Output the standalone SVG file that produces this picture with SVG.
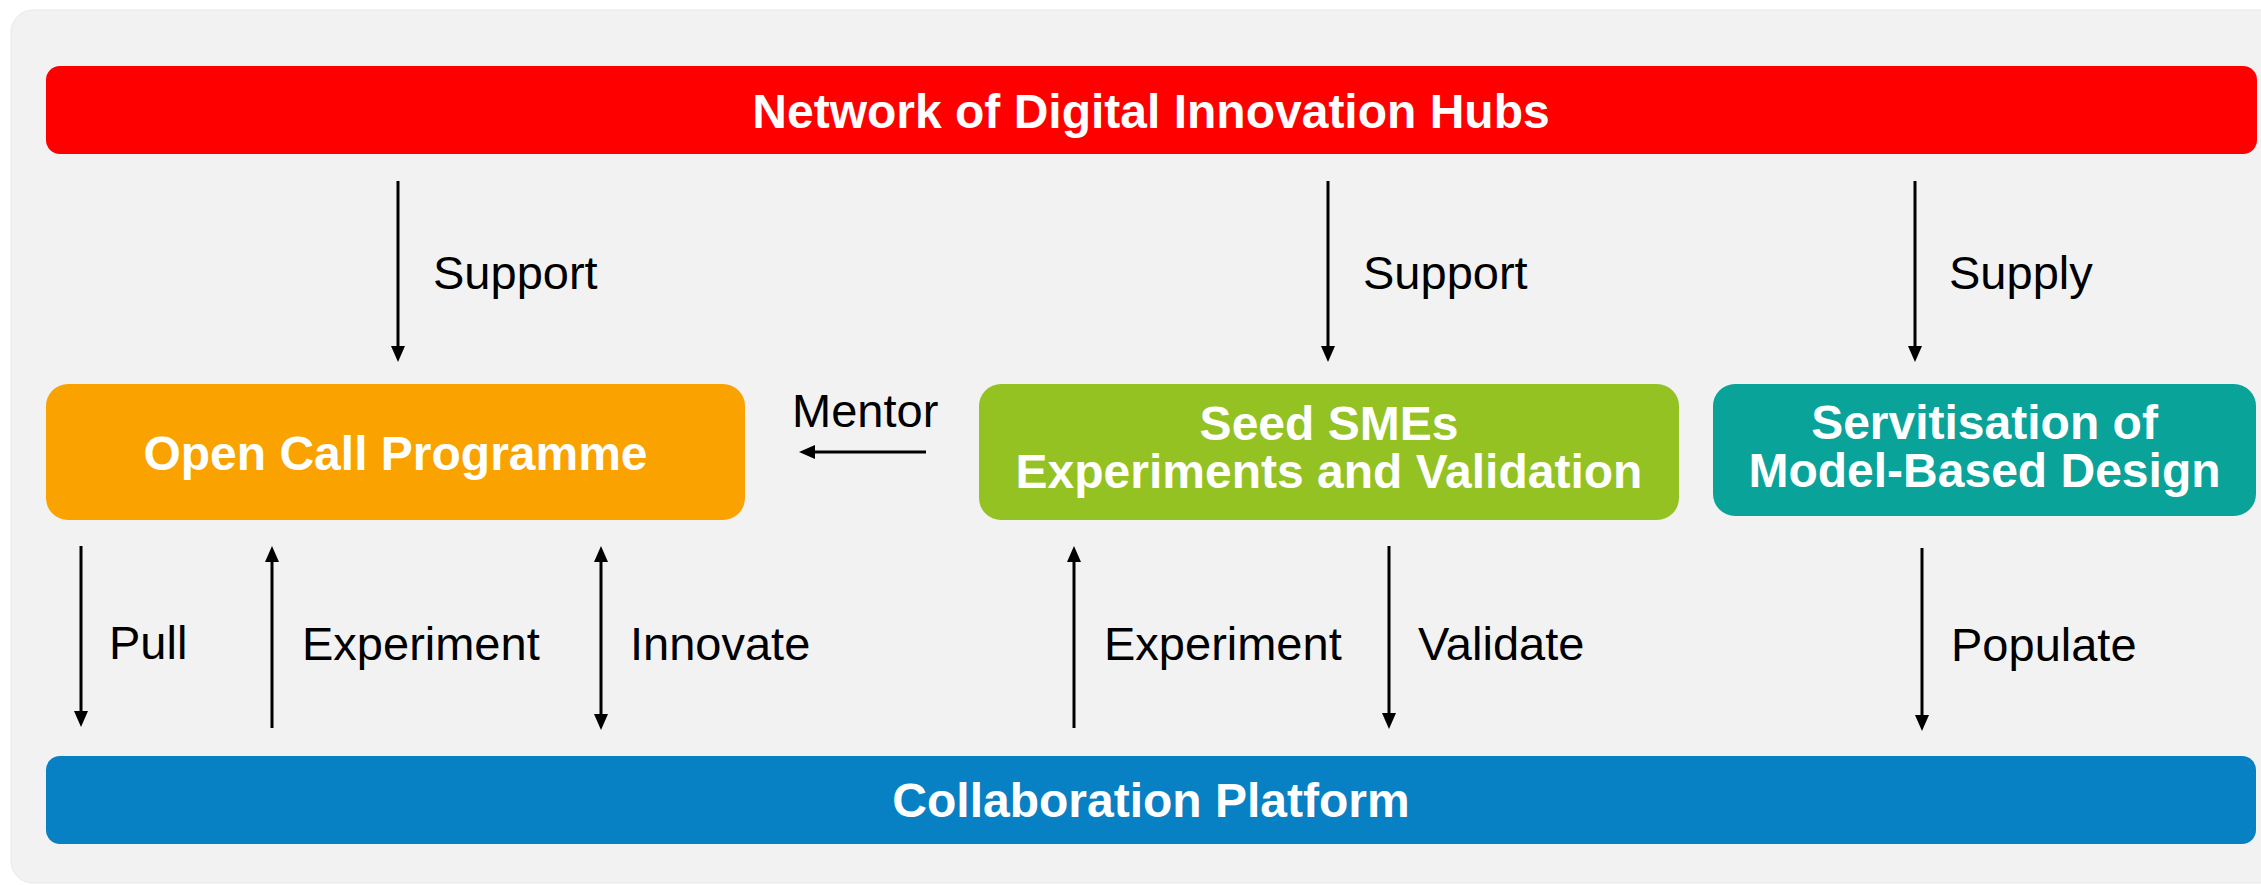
<svg xmlns="http://www.w3.org/2000/svg" width="2261" height="885" viewBox="0 0 2261 885">
<style>
.lbl{font-family:"Liberation Sans",Arial,sans-serif;font-size:47px;fill:#000}
.ttl{font-family:"Liberation Sans",Arial,sans-serif;font-size:48px;font-weight:bold;fill:#fff;text-anchor:middle}
.arr{stroke:#000;stroke-width:3;fill:none}
</style>
<defs>
<marker id="ah" viewBox="0 0 16 14" refX="6" refY="7" markerWidth="16" markerHeight="14" markerUnits="userSpaceOnUse" orient="auto-start-reverse">
<path d="M0,0 L16,7 L0,14 z" fill="#000"/>
</marker>
</defs>
<rect x="0" y="0" width="2261" height="885" fill="#fff"/>
<rect id="panel" x="11" y="10" width="2280" height="873" rx="22" fill="#f2f2f2" stroke="#e8e8e8" stroke-width="1"/>
<g id="network">
<rect x="46" y="66" width="2211" height="88" rx="14" fill="#ff0000"/>
<text class="ttl" x="1151" y="128">Network of Digital Innovation Hubs</text>
</g>
<g id="opencall">
<rect x="46" y="384" width="699" height="136" rx="22" fill="#faa200"/>
<text class="ttl" x="395.5" y="470">Open Call Programme</text>
</g>
<g id="seed">
<rect x="979" y="384" width="700" height="136" rx="22" fill="#93c222"/>
<text class="ttl" x="1329" y="440">Seed SMEs</text>
<text class="ttl" x="1329" y="488">Experiments and Validation</text>
</g>
<g id="servitisation">
<rect x="1713" y="384" width="543" height="132" rx="22" fill="#0aa399"/>
<text class="ttl" x="1984.5" y="439">Servitisation of</text>
<text class="ttl" x="1984.5" y="487">Model-Based Design</text>
</g>
<g id="platform">
<rect x="46" y="756" width="2210" height="88" rx="14" fill="#0881c4"/>
<text class="ttl" x="1151" y="817">Collaboration Platform</text>
</g>
<g id="connectors">
<line class="arr" x1="398" y1="181" x2="398" y2="352" marker-end="url(#ah)"/>
<line class="arr" x1="1328" y1="181" x2="1328" y2="352" marker-end="url(#ah)"/>
<line class="arr" x1="1915" y1="181" x2="1915" y2="352" marker-end="url(#ah)"/>
<line class="arr" x1="926" y1="452" x2="809" y2="452" marker-end="url(#ah)"/>
<line class="arr" x1="81" y1="546" x2="81" y2="717" marker-end="url(#ah)"/>
<line class="arr" x1="272" y1="728" x2="272" y2="556" marker-end="url(#ah)"/>
<line class="arr" x1="601" y1="556" x2="601" y2="720" marker-start="url(#ah)" marker-end="url(#ah)"/>
<line class="arr" x1="1074" y1="728" x2="1074" y2="556" marker-end="url(#ah)"/>
<line class="arr" x1="1389" y1="546" x2="1389" y2="719" marker-end="url(#ah)"/>
<line class="arr" x1="1922" y1="548" x2="1922" y2="721" marker-end="url(#ah)"/>
</g>
<g id="labels">
<text class="lbl" x="433" y="289">Support</text>
<text class="lbl" x="1363" y="289">Support</text>
<text class="lbl" x="1949" y="289">Supply</text>
<text class="lbl" x="792" y="427">Mentor</text>
<text class="lbl" x="109" y="659">Pull</text>
<text class="lbl" x="302" y="660">Experiment</text>
<text class="lbl" x="630" y="660">Innovate</text>
<text class="lbl" x="1104" y="660">Experiment</text>
<text class="lbl" x="1418" y="660">Validate</text>
<text class="lbl" x="1951" y="661">Populate</text>
</g>
</svg>
